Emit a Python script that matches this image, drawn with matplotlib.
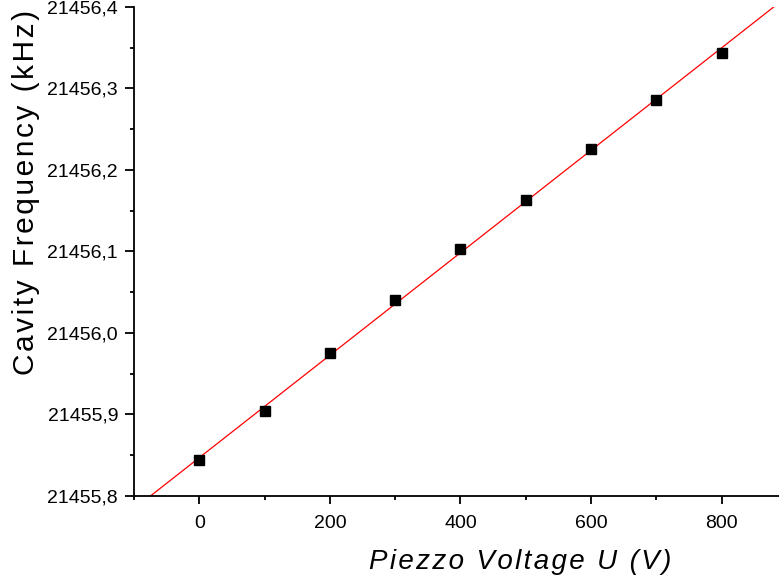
import numpy as np
import matplotlib
matplotlib.use("Agg")
import matplotlib.pyplot as plt
from matplotlib.ticker import MultipleLocator, FuncFormatter

voltage = [0, 100, 200, 300, 400, 500, 600, 700, 800]
freq = [21455.844, 21455.904, 21455.975, 21456.040, 21456.103,
        21456.163, 21456.226, 21456.286, 21456.344]
fit_range = [-83, 880]
xlabel = "Piezzo Voltage U (V)"
ylabel = "Cavity Frequency (kHz)"

plt.rcParams['font.family'] = ['Liberation Sans', 'DejaVu Sans']

fig = plt.figure(figsize=(7.79, 5.78), dpi=100)
ax = fig.add_axes([0.172, 0.142, 0.828, 0.846])

slope, intercept = np.polyfit(voltage, freq, 1)
xs = np.array(fit_range)
ax.plot(xs, slope * xs + intercept, color='red', lw=0.9, zorder=2)
ax.plot(voltage, freq, 's', color='black', ms=7, zorder=3)

ax.set_xlim(-100, 888)
ax.set_ylim(21455.8, 21456.4)
ax.xaxis.set_major_locator(MultipleLocator(200))
ax.xaxis.set_minor_locator(MultipleLocator(100))
ax.yaxis.set_major_locator(MultipleLocator(0.1))
ax.yaxis.set_minor_locator(MultipleLocator(0.05))
ax.yaxis.set_major_formatter(FuncFormatter(lambda v, p: f"{v:.1f}".replace('.', ',')))

for s in ['top', 'right']:
    ax.spines[s].set_visible(False)
for s in ['left', 'bottom']:
    ax.spines[s].set_linewidth(1.3)
ax.tick_params(which='both', direction='out', width=1.3, labelsize=14)
ax.tick_params(axis='x', which='major', length=5.4, pad=8)
ax.tick_params(axis='y', which='major', length=6.5, pad=5)
ax.tick_params(which='minor', length=3.2)

# Origin-style letter spacing
spaced = lambda s: '\u200a'.join(s)
fig.text(520 / 779, 1 - 569 / 578, spaced(xlabel), fontsize=20, style='italic',
         ha='center', va='baseline')
fig.text(26 / 779, 1 - 192 / 578, spaced(ylabel), fontsize=21.5,
         rotation=90, ha='center', va='center')

plt.savefig("out.png", dpi=100)
